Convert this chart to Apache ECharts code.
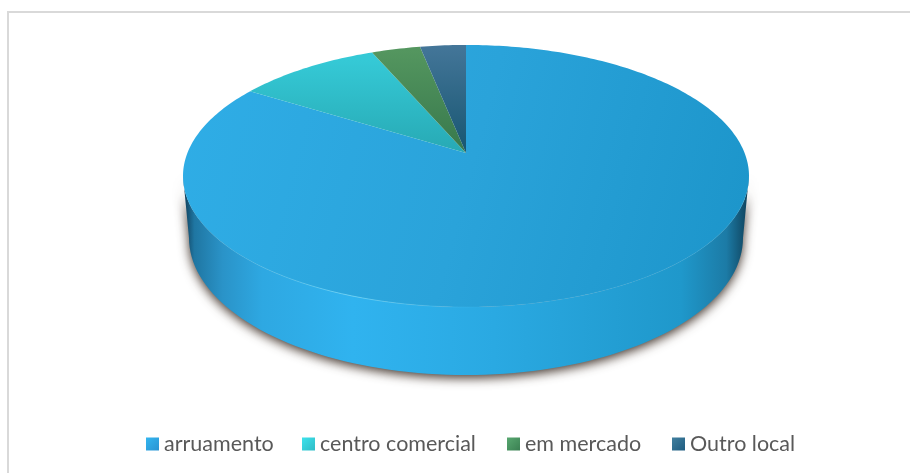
<!DOCTYPE html>
<html>
<head>
<meta charset="utf-8">
<title>Local</title>
<script src="https://cdn.jsdelivr.net/npm/echarts@6/dist/echarts.min.js"></script>
<style>
html, body { margin: 0; padding: 0; background: #fff; }
#chart { width: 910px; height: 473px; }
</style>
</head>
<body>
<div id="chart"></div>
<script>
var categories = ['arruamento', 'centro comercial', 'em mercado', 'Outro local'];
var shares = [83.9, 9.7, 3.3, 3.1];
var legendLefts = [146, 302, 507, 672];

var LG = echarts.graphic.LinearGradient;
var legendColors = [
	new LG(0, 0, 1, 1, [{ offset: 0, color: '#33b6f0' }, { offset: 1, color: '#2a93d2' }]),
	new LG(0, 0, 1, 1, [{ offset: 0, color: '#3de2ec' }, { offset: 1, color: '#30bcc6' }]),
	new LG(0, 0, 1, 1, [{ offset: 0, color: '#58a870' }, { offset: 1, color: '#3a7f52' }]),
	new LG(0, 0, 1, 1, [{ offset: 0, color: '#42809f' }, { offset: 1, color: '#1f5c80' }])
];
var cx = 466, cy = 153, k = 0.1756, A = 278.6, B = 127;

// circle -> tilted disc, front of the disc is nearer so it gets stretched
function topPoint(a) {
	var u = Math.sin(a), v = -Math.cos(a), w = 1 - k * v;
	return [cx + A * u / w, cy + B * v / w];
}
function basePoint(a) {
	return [cx + 277 * Math.sin(a), 238 - 137 * Math.cos(a)];
}
function rad(d) { return d * Math.PI / 180; }

var fills = [
	new LG(183, 110, 749, 260, [
		{ offset: 0, color: '#2fade6' },
		{ offset: 0.5, color: '#2aa3da' },
		{ offset: 1, color: '#1c95ca' }
	], true),
	new LG(0, 60, 0, 153, [{ offset: 0, color: '#35c9d6' }, { offset: 1, color: '#27a9b4' }], true),
	new LG(0, 50, 0, 153, [{ offset: 0, color: '#54965f' }, { offset: 1, color: '#37784c' }], true),
	new LG(0, 45, 0, 153, [{ offset: 0, color: '#447699' }, { offset: 1, color: '#175671' }], true)
];

var total = shares.reduce(function(a, b) { return a + b; }, 0);
var series = [];

// side wall + shadow
series.push({
	type: 'custom',
	coordinateSystem: 'none',
	silent: true,
	z: 1,
	data: [[0]],
	renderItem: function() {
		var pts = [], a;
		for (a = 260; a >= 100; a -= 2) {
			pts.push(topPoint(rad(a)));
		}
		for (a = 90; a <= 270; a += 2) {
			pts.push(basePoint(rad(a)));
		}
		return {
			type: 'polygon',
			shape: { points: pts },
			style: {
				fill: new LG(183, 0, 749, 0, [
					{ offset: 0, color: '#0f3a54' },
					{ offset: 0.02, color: '#1f76a2' },
					{ offset: 0.07, color: '#2a93c8' },
					{ offset: 0.14, color: '#2ea8e2' },
					{ offset: 0.3, color: '#30b3ef' },
					{ offset: 0.55, color: '#2aa9e2' },
					{ offset: 0.88, color: '#1f98cb' },
					{ offset: 0.96, color: '#1c7ba6' },
					{ offset: 1, color: '#0f4059' }
				], true),
				shadowBlur: 11,
				shadowColor: 'rgba(45,30,20,0.9)',
				shadowOffsetY: 3
			}
		};
	}
});

var start = 0;
categories.forEach(function(name, i) {
	var from = start / total * 360, to = (start + shares[i]) / total * 360;
	start += shares[i];
	series.push({
		type: 'custom',
		name: name,
		coordinateSystem: 'none',
		silent: true,
		z: 2,
		data: [[from, to]],
		renderItem: function(params, api) {
			var a0 = api.value(0), a1 = api.value(1);
			var pts = [[cx, cy]];
			for (var a = a0; a < a1; a += 1) {
				pts.push(topPoint(rad(a)));
			}
			pts.push(topPoint(rad(a1)));
			return { type: 'polygon', shape: { points: pts }, style: { fill: fills[i] } };
		}
	});
});

// thin light rim on the front edge
series.push({
	type: 'custom',
	coordinateSystem: 'none',
	silent: true,
	z: 3,
	data: [[0]],
	renderItem: function() {
		var pts = [];
		for (var a = 240; a >= 110; a -= 2) {
			pts.push(topPoint(rad(a)));
		}
		return {
			type: 'polyline',
			shape: { points: pts },
			style: {
				fill: null,
				lineWidth: 1,
				stroke: new LG(200, 0, 700, 0, [
					{ offset: 0, color: 'rgba(90,205,250,0)' },
					{ offset: 0.3, color: 'rgba(110,215,250,0.8)' },
					{ offset: 0.55, color: 'rgba(90,205,250,0.1)' },
					{ offset: 1, color: 'rgba(60,180,230,0.3)' }
				], true)
			}
		};
	}
});

var myChart = echarts.init(document.getElementById('chart'));
myChart.setOption({
	animation: false,
	graphic: [
		{ type: 'rect', shape: { x: 7, y: 11, width: 903, height: 2 }, style: { fill: '#d9d9d9' }, z: -1 },
		{ type: 'rect', shape: { x: 7, y: 11, width: 2, height: 462 }, style: { fill: '#d9d9d9' }, z: -1 }
	],
	legend: categories.map(function(name, i) {
		return {
			top: 433,
			left: legendLefts[i],
			padding: 0,
			itemWidth: 13,
			itemHeight: 13,
			icon: 'rect',
			selectedMode: false,
			textStyle: { color: '#595959', fontSize: 21.5, fontFamily: 'Lato' },
			data: [{ name: name, itemStyle: { color: legendColors[i] } }]
		};
	}),
	series: series
});
</script>
</body>
</html>
